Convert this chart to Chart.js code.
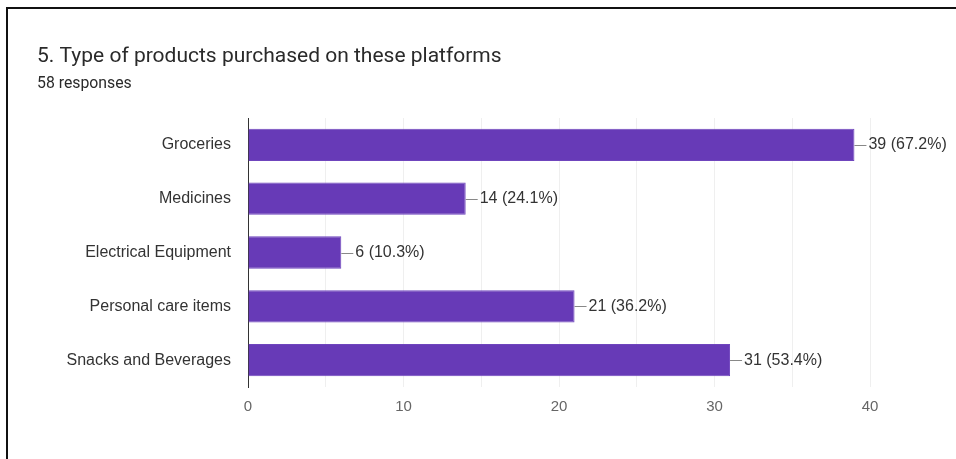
<!DOCTYPE html>
<html>
<head>
<meta charset="utf-8">
<script src="https://cdn.jsdelivr.net/npm/chart.js@4"></script>
<style>
  html, body { margin: 0; padding: 0; background: #fff; }
  #frame {
    position: absolute; left: 6px; top: 7px; right: 0; bottom: 0;
    border-top: 2px solid #111; border-left: 2px solid #111;
  }
  #wrap { position: absolute; left: 0; top: 0; width: 956px; height: 459px; }
</style>
</head>
<body>
<div id="frame"></div>
<div id="wrap"><canvas id="productsChart" width="956" height="459"></canvas></div>
<script>
(function(){
  var categories = ["Groceries", "Medicines", "Electrical Equipment", "Personal care items", "Snacks and Beverages"];
  var counts = [39, 14, 6, 21, 31];
  var percents = ["67.2%", "24.1%", "10.3%", "36.2%", "53.4%"];
  var xTicks = [0, 10, 20, 30, 40];

  var titleText = "5. Type of products purchased on these platforms";
  var subtitleText = "58 responses";

  var LABEL_FONT = "Arial, 'Liberation Sans', sans-serif";

  // heading drawn at fixed spot above the plot
  var heading = {
    id: "heading",
    afterDraw: function(chart){
      var c = chart.ctx;
      c.save();
      c.fillStyle = "#2a2a2a";
      c.textBaseline = "alphabetic";
      c.font = "21px Roboto, sans-serif";
      c.fillText(titleText, 37, 62);
      c.font = "15.8px Roboto, sans-serif";
      c.fillText(subtitleText, 37, 88);
      c.restore();
    }
  };

  // value labels with a short leader line after each bar
  var valueLabels = {
    id: "valueLabels",
    afterDatasetsDraw: function(chart){
      var c = chart.ctx;
      var meta = chart.getDatasetMeta(0);
      c.save();
      c.font = "16px " + LABEL_FONT;
      c.textBaseline = "middle";
      meta.data.forEach(function(bar, i){
        c.strokeStyle = "#888";
        c.lineWidth = 1;
        c.beginPath();
        c.moveTo(bar.x, Math.round(bar.y) + 0.5);
        c.lineTo(bar.x + 12, Math.round(bar.y) + 0.5);
        c.stroke();
        c.fillStyle = "#333";
        c.fillText(counts[i] + " (" + percents[i] + ")", bar.x + 14, bar.y);
      });
      c.restore();
    }
  };

  new Chart(document.getElementById("productsChart").getContext("2d"), {
    type: "bar",
    data: {
      labels: categories,
      datasets: [{
        data: counts,
        backgroundColor: "#673ab7",
        borderColor: "#6f45bd",
        borderWidth: 1,
        categoryPercentage: 1,
        barPercentage: 0.6
      }]
    },
    options: {
      indexAxis: "y",
      responsive: false,
      animation: false,
      layout: { padding: { top: 118, right: 86, bottom: 32, left: 0 } },
      plugins: { legend: { display: false }, tooltip: { enabled: false } },
      scales: {
        x: {
          min: 0, max: 40,
          afterFit: function(s){ s.height = 40; },
          afterBuildTicks: function(s){
            var t = [];
            for (var v = 0; v <= 40; v += 5) t.push({ value: v });
            s.ticks = t;
          },
          grid: { color: "#efefef", drawTicks: false },
          border: { display: false },
          ticks: {
            padding: 11,
            color: "#666",
            font: { family: LABEL_FONT, size: 15 },
            maxRotation: 0,
            autoSkip: false,
            callback: function(v){ return xTicks.indexOf(v) >= 0 ? String(v) : ""; }
          }
        },
        y: {
          afterFit: function(s){ s.width = 248; },
          grid: { display: false, drawTicks: false },
          border: { display: true, color: "#333", width: 1 },
          ticks: {
            padding: 17,
            color: "#333",
            font: { family: LABEL_FONT, size: 16 }
          }
        }
      }
    },
    plugins: [heading, valueLabels]
  });
})();
</script>
</body>
</html>
